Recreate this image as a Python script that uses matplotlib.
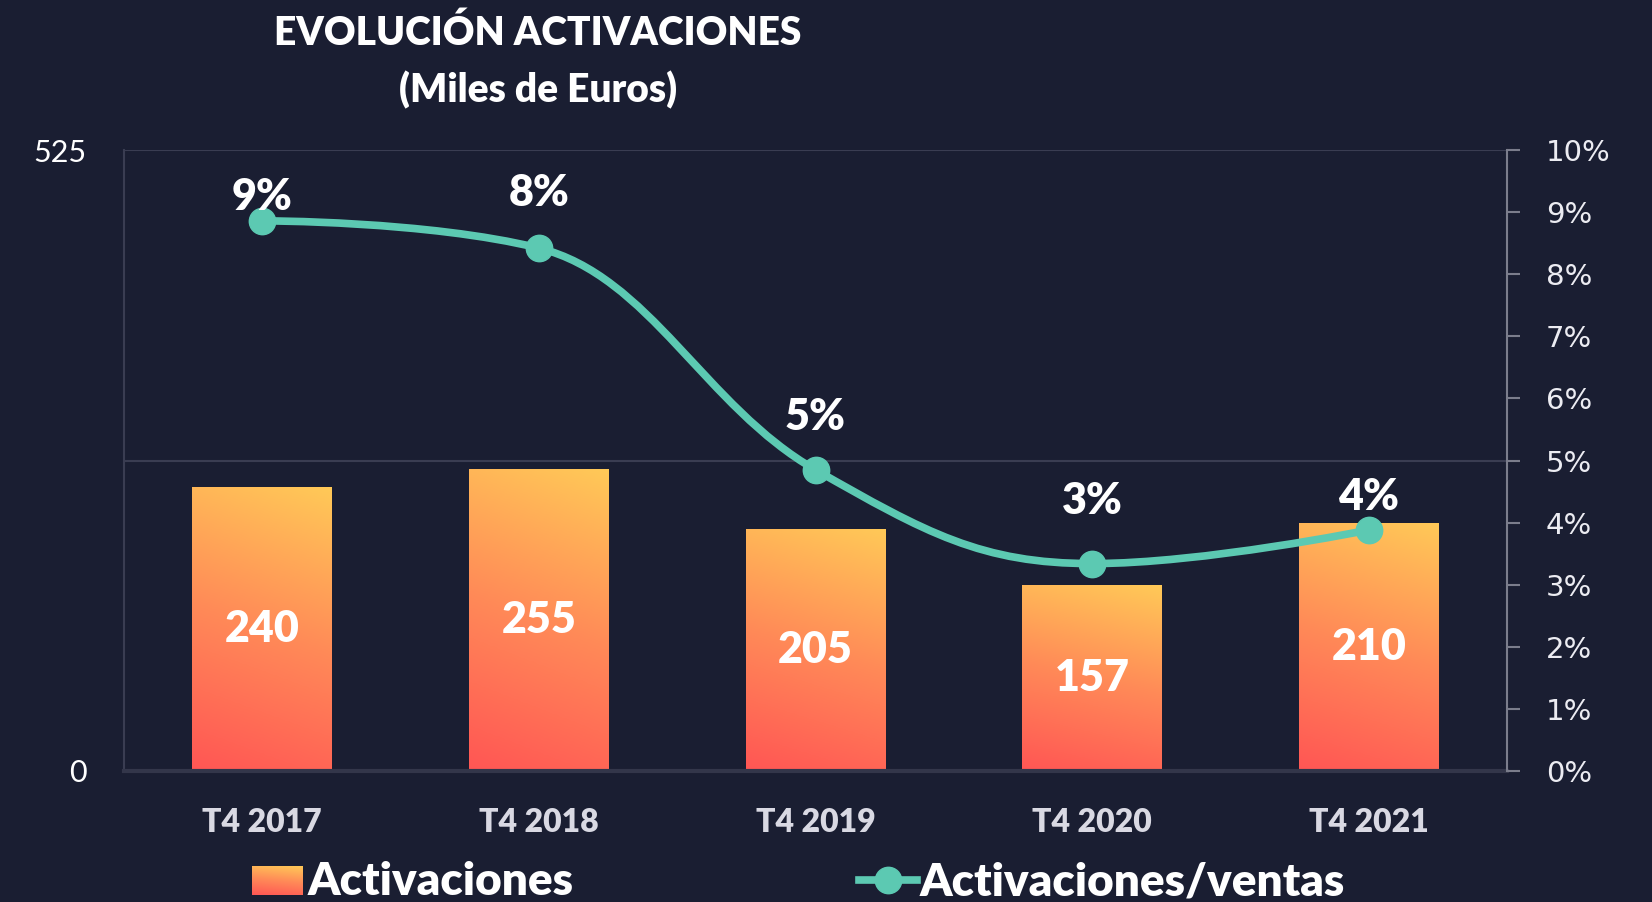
import matplotlib
matplotlib.use("Agg")
import matplotlib.pyplot as plt
import numpy as np
from matplotlib.colors import LinearSegmentedColormap
from matplotlib.path import Path
from matplotlib.patches import PathPatch
from matplotlib.lines import Line2D

# data
periods = ["T4 2017", "T4 2018", "T4 2019", "T4 2020", "T4 2021"]
activaciones = [240, 255, 205, 157, 210]
ratio_pct = [8.86, 8.42, 4.85, 3.34, 3.88]
ratio_labels = ["9%", "8%", "5%", "3%", "4%"]

# label offsets above the points (points)
label_dy = [17, 40, 38, 45, 24]

BG = "#1a1e32"
TEAL = "#5cc9b2"
GRID = "#3a3d52"
HEAVY = 800
bar_cmap = LinearSegmentedColormap.from_list("bars", ["#ff5654", "#ff8a58", "#ffc957"])

W, H = 1652, 902
fig = plt.figure(figsize=(W / 100, H / 100), dpi=100)
fig.patch.set_facecolor(BG)

ax = fig.add_axes([124 / W, (H - 771) / H, (1507 - 124) / W, (771 - 150) / H])
ax.set_facecolor(BG)
ax2 = ax.twinx()
ax2.patch.set_visible(False)

x = np.arange(len(periods))

# gradient bars
bars = ax.bar(x, activaciones, width=0.505, color="none", edgecolor="none", zorder=2)
gy, gx = np.mgrid[0:1:200j, 0:1:50j]
grad = 0.85 * gy + 0.15 * gx
for b in bars:
    x0, w, h = b.get_x(), b.get_width(), b.get_height()
    im = ax.imshow(grad, cmap=bar_cmap, origin="lower", aspect="auto",
                   extent=(x0, x0 + w, 0, h), zorder=2, interpolation="bilinear")
    im.set_clip_path(b)
ax.set_xlim(-0.5, len(periods) - 0.5)
ax.set_ylim(0, 525)
ax2.set_ylim(0, 10)

for xi, v in zip(x, activaciones):
    ax.text(xi, v / 2, str(v), ha="center", va="center", color="white",
            fontsize=31, fontweight=HEAVY, family="Lato", zorder=5)

# grid / spines
ax.set_yticks([0, 262.5, 525])
ax.set_yticklabels(["0", "", "525"])
ax.grid(axis="y", color=GRID, lw=1.5, zorder=0)
ax.tick_params(axis="y", length=0, pad=27, labelsize=22, labelcolor="white")
for lab in ax.get_yticklabels():
    lab.set_family("Lato")
ax.spines["left"].set_color(GRID)
ax.spines["left"].set_linewidth(1.5)
ax.spines["bottom"].set_color("#33364a")
ax.spines["bottom"].set_linewidth(3)
ax.spines["top"].set_visible(False)
ax.spines["right"].set_visible(False)

ax.set_xticks(x)
ax.set_xticklabels(periods)
ax.tick_params(axis="x", length=0, pad=27, labelsize=23, labelcolor="#d9d9e3")
for lab in ax.get_xticklabels():
    lab.set_family("Lato")
    lab.set_fontweight(HEAVY)

for s in ["top", "left", "bottom"]:
    ax2.spines[s].set_visible(False)
ax2.spines["right"].set_color("#7b7d8c")
ax2.spines["right"].set_linewidth(1.5)
ax2.set_yticks(np.arange(0, 11, 1))
ax2.set_yticklabels([f"{i}%" for i in range(11)])
ax2.tick_params(axis="y", length=9, width=1.5, color="#7b7d8c", pad=19,
                labelsize=21, labelcolor="#ececf2")


# smooth line (highcharts-like spline)
def spline_path(xs, ys, smooth=1.5):
    n = len(xs)
    lc = [None] * n
    rc = [None] * n
    for i in range(1, n - 1):
        px, py = xs[i], ys[i]
        lx = (smooth * px + xs[i - 1]) / (smooth + 1)
        ly = (smooth * py + ys[i - 1]) / (smooth + 1)
        rx = (smooth * px + xs[i + 1]) / (smooth + 1)
        ry = (smooth * py + ys[i + 1]) / (smooth + 1)
        corr = ((ry - ly) * (rx - px)) / (rx - lx) + py - ry
        ly += corr
        ry += corr
        if ly > ys[i - 1] and ly > py:
            ly = max(ys[i - 1], py)
            ry = 2 * py - ly
        elif ly < ys[i - 1] and ly < py:
            ly = min(ys[i - 1], py)
            ry = 2 * py - ly
        if ry > ys[i + 1] and ry > py:
            ry = max(ys[i + 1], py)
            ly = 2 * py - ry
        elif ry < ys[i + 1] and ry < py:
            ry = min(ys[i + 1], py)
            ly = 2 * py - ry
        lc[i] = (lx, ly)
        rc[i] = (rx, ry)
    verts = [(xs[0], ys[0])]
    codes = [Path.MOVETO]
    for i in range(1, n):
        c1 = rc[i - 1] if rc[i - 1] is not None else (xs[i - 1], ys[i - 1])
        c2 = lc[i] if lc[i] is not None else (xs[i], ys[i])
        verts += [c1, c2, (xs[i], ys[i])]
        codes += [Path.CURVE4] * 3
    return Path(verts, codes)


ax2.add_patch(PathPatch(spline_path(list(x), ratio_pct), fill=False,
                        edgecolor=TEAL, lw=5.5, capstyle="round", zorder=4))
ax2.plot(x, ratio_pct, "o", color=TEAL, ms=19, zorder=5)
for xi, v, lab, dy in zip(x, ratio_pct, ratio_labels, label_dy):
    ax2.annotate(lab, (xi, v), xytext=(0, dy), textcoords="offset points",
                 ha="center", va="center", color="white", fontsize=31,
                 fontweight=HEAVY, family="Lato", zorder=6)

# title
fig.text(538 / W, 1 - 62 / H, "EVOLUCIÓN ACTIVACIONES\n(Miles de Euros)",
         ha="center", va="center", color="white", fontsize=28,
         fontweight=HEAVY, family="Lato", linespacing=1.6)

# legend (manual)
lax = fig.add_axes([252 / W, 7 / H, 51 / W, 29 / H])
lax.imshow(grad, cmap=bar_cmap, origin="lower", aspect="auto")
lax.axis("off")
fig.text(308 / W, 7 / H, "Activaciones", ha="left", va="baseline",
         color="white", fontsize=33, fontweight=HEAVY, family="Lato")
fig.add_artist(Line2D([859 / W, 917 / W], [1 - 880 / H] * 2, color=TEAL,
                      lw=5.5, transform=fig.transFigure))
fig.add_artist(Line2D([888 / W], [1 - 880 / H], marker="o", ms=19, color=TEAL,
                      transform=fig.transFigure))
fig.text(920 / W, 7 / H, "Activaciones/ventas", ha="left", va="baseline",
         color="white", fontsize=33, fontweight=HEAVY, family="Lato")

fig.savefig("out.png", dpi=100, facecolor=BG)
